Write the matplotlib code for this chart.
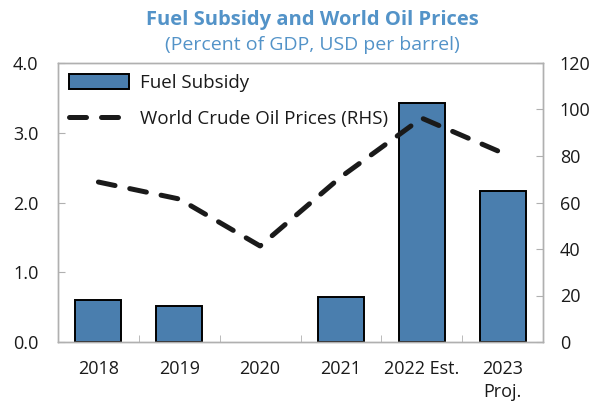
import matplotlib
matplotlib.use("Agg")
import matplotlib.pyplot as plt
import numpy as np

plt.rcParams['font.family'] = ['Open Sans', 'DejaVu Sans']

# data
years = ['2018', '2019', '2020', '2021', '2022 Est.', '2023\nProj.']
subsidy = [0.60, 0.52, 0.0, 0.65, 3.43, 2.16]        # percent of GDP
oil_price = [68.8, 61.5, 41.3, 71.0, 96.3, 81.3]     # USD per barrel

bar_color = '#4a7eae'
title_color = '#5393c8'
spine_color = '#b0b0b0'
text_color = '#1a1a1a'
fs = 13

fig = plt.figure(figsize=(6.0, 4.07), dpi=100)
ax = fig.add_axes([58/600, 1 - 342/407, (543 - 58)/600, (342 - 63)/407])
ax2 = ax.twinx()

x = np.arange(len(years))
bars = ax.bar(x, subsidy, width=0.57, color=bar_color, edgecolor='black',
              linewidth=1.4, label='Fuel Subsidy', zorder=2)
# an empty year should not leave a flat outline on the axis
for b, v in zip(bars, subsidy):
    if v == 0:
        b.set_linewidth(0)
line, = ax2.plot(x, oil_price, color='#1a1a1a', linewidth=3.6,
                 label='World Crude Oil Prices (RHS)')
line.set_dashes((3.4, 3.0))
line.set_dash_capstyle('round')

ax.set_xlim(-0.5, len(years) - 0.5)
ax.set_ylim(0, 4.0)
ax.set_yticks(np.arange(0, 4.01, 1.0))
ax.set_yticklabels([f'{v:.1f}' for v in np.arange(0, 4.01, 1.0)])
ax2.set_ylim(0, 120)
ax2.set_yticks(np.arange(0, 121, 20))

ax.set_xticks(x)
ax.set_xticklabels(years, color=text_color, fontsize=fs, va='top', linespacing=1.35)
ax.set_xticks(np.arange(0.5, len(years) - 1, 1.0), minor=True)
ax.tick_params(axis='x', which='major', length=0, pad=13)
ax.tick_params(axis='x', which='minor', length=5, direction='in', color=spine_color)
ax.tick_params(axis='y', length=5, direction='in', color=spine_color,
               labelsize=fs, labelcolor=text_color, pad=14)
ax2.tick_params(axis='y', length=5, direction='in', color=spine_color,
                labelsize=fs, labelcolor=text_color, pad=12)

for a in (ax, ax2):
    for s in a.spines.values():
        s.set_color(spine_color)
        s.set_linewidth(1.0)

leg = ax2.legend([bars, line], ['Fuel Subsidy', 'World Crude Oil Prices (RHS)'],
                 loc='upper left', bbox_to_anchor=(0.0, 1.0), frameon=False,
                 fontsize=13.5, handlelength=3.2, handleheight=0.85,
                 labelspacing=0.95, handletextpad=0.55, borderaxespad=0.2)
for t in leg.get_texts():
    t.set_color(text_color)

fig.text(0.52, 1 - 20/407, 'Fuel Subsidy and World Oil Prices', ha='center', va='center',
         fontsize=14.5, fontweight='bold', color=title_color)
fig.text(0.52, 1 - 45/407, '(Percent of GDP, USD per barrel)', ha='center', va='center',
         fontsize=14, color=title_color)

fig.savefig('out.png', dpi=100)
